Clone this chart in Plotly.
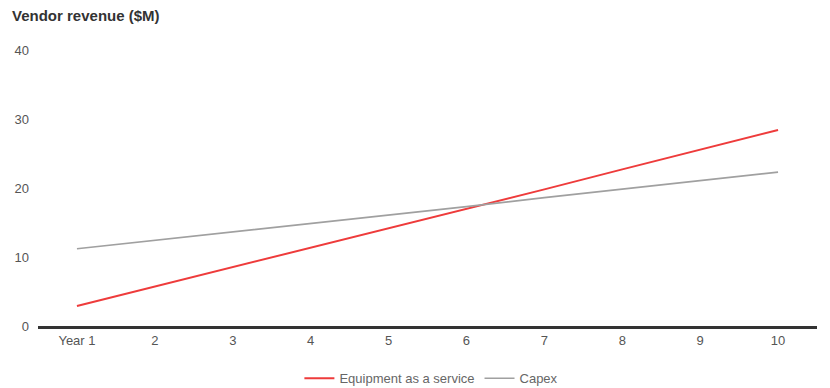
import plotly.graph_objects as go

years = ["Year 1", "2", "3", "4", "5", "6", "7", "8", "9", "10"]
eaas_revenue = [2.9, 5.7, 8.5, 11.4, 14.2, 17.0, 19.8, 22.7, 25.5, 28.4]
capex_revenue = [11.2, 12.4, 13.7, 14.9, 16.1, 17.3, 18.6, 19.8, 21.0, 22.3]
y_ticks = [0, 10, 20, 30, 40]

FONT = "Liberation Sans, Arial, sans-serif"

fig = go.Figure()
fig.add_trace(go.Scatter(
    x=years, y=eaas_revenue, mode="lines", name="Equipment as a service",
    line=dict(color="#ee3b3b", width=2),
))
fig.add_trace(go.Scatter(
    x=years, y=capex_revenue, mode="lines", name="Capex",
    line=dict(color="#a0a0a0", width=1.6),
))

fig.update_layout(
    width=830, height=388,
    margin=dict(l=38, r=13, t=50, b=62, autoexpand=False),
    paper_bgcolor="white", plot_bgcolor="white",
    font=dict(family=FONT, size=13, color="#555"),
    showlegend=True,
    legend=dict(
        orientation="h", x=0.505, xanchor="center",
        yref="container", y=0.025, yanchor="middle",
        font=dict(size=13, color="#666"), itemwidth=30,
    ),
    annotations=[dict(
        text="<b>Vendor revenue ($M)</b>", xref="paper", yref="paper",
        x=-28 / 779, y=1, xanchor="left", yanchor="bottom",
        yshift=24, showarrow=False, font=dict(size=15, color="#333", family=FONT),
    )],
    xaxis=dict(
        type="category", range=[-0.5, 9.5], showgrid=False,
        showline=True, linecolor="#333", linewidth=3,
        ticks="", tickfont=dict(size=13, color="#555"), zeroline=False,
    ),
    yaxis=dict(
        range=[0, 40], tickvals=y_ticks, showgrid=False, zeroline=False,
        showline=False, ticks="", ticklabelstandoff=8,
        tickfont=dict(size=13, color="#555"),
    ),
)

fig.write_html("out.html")
